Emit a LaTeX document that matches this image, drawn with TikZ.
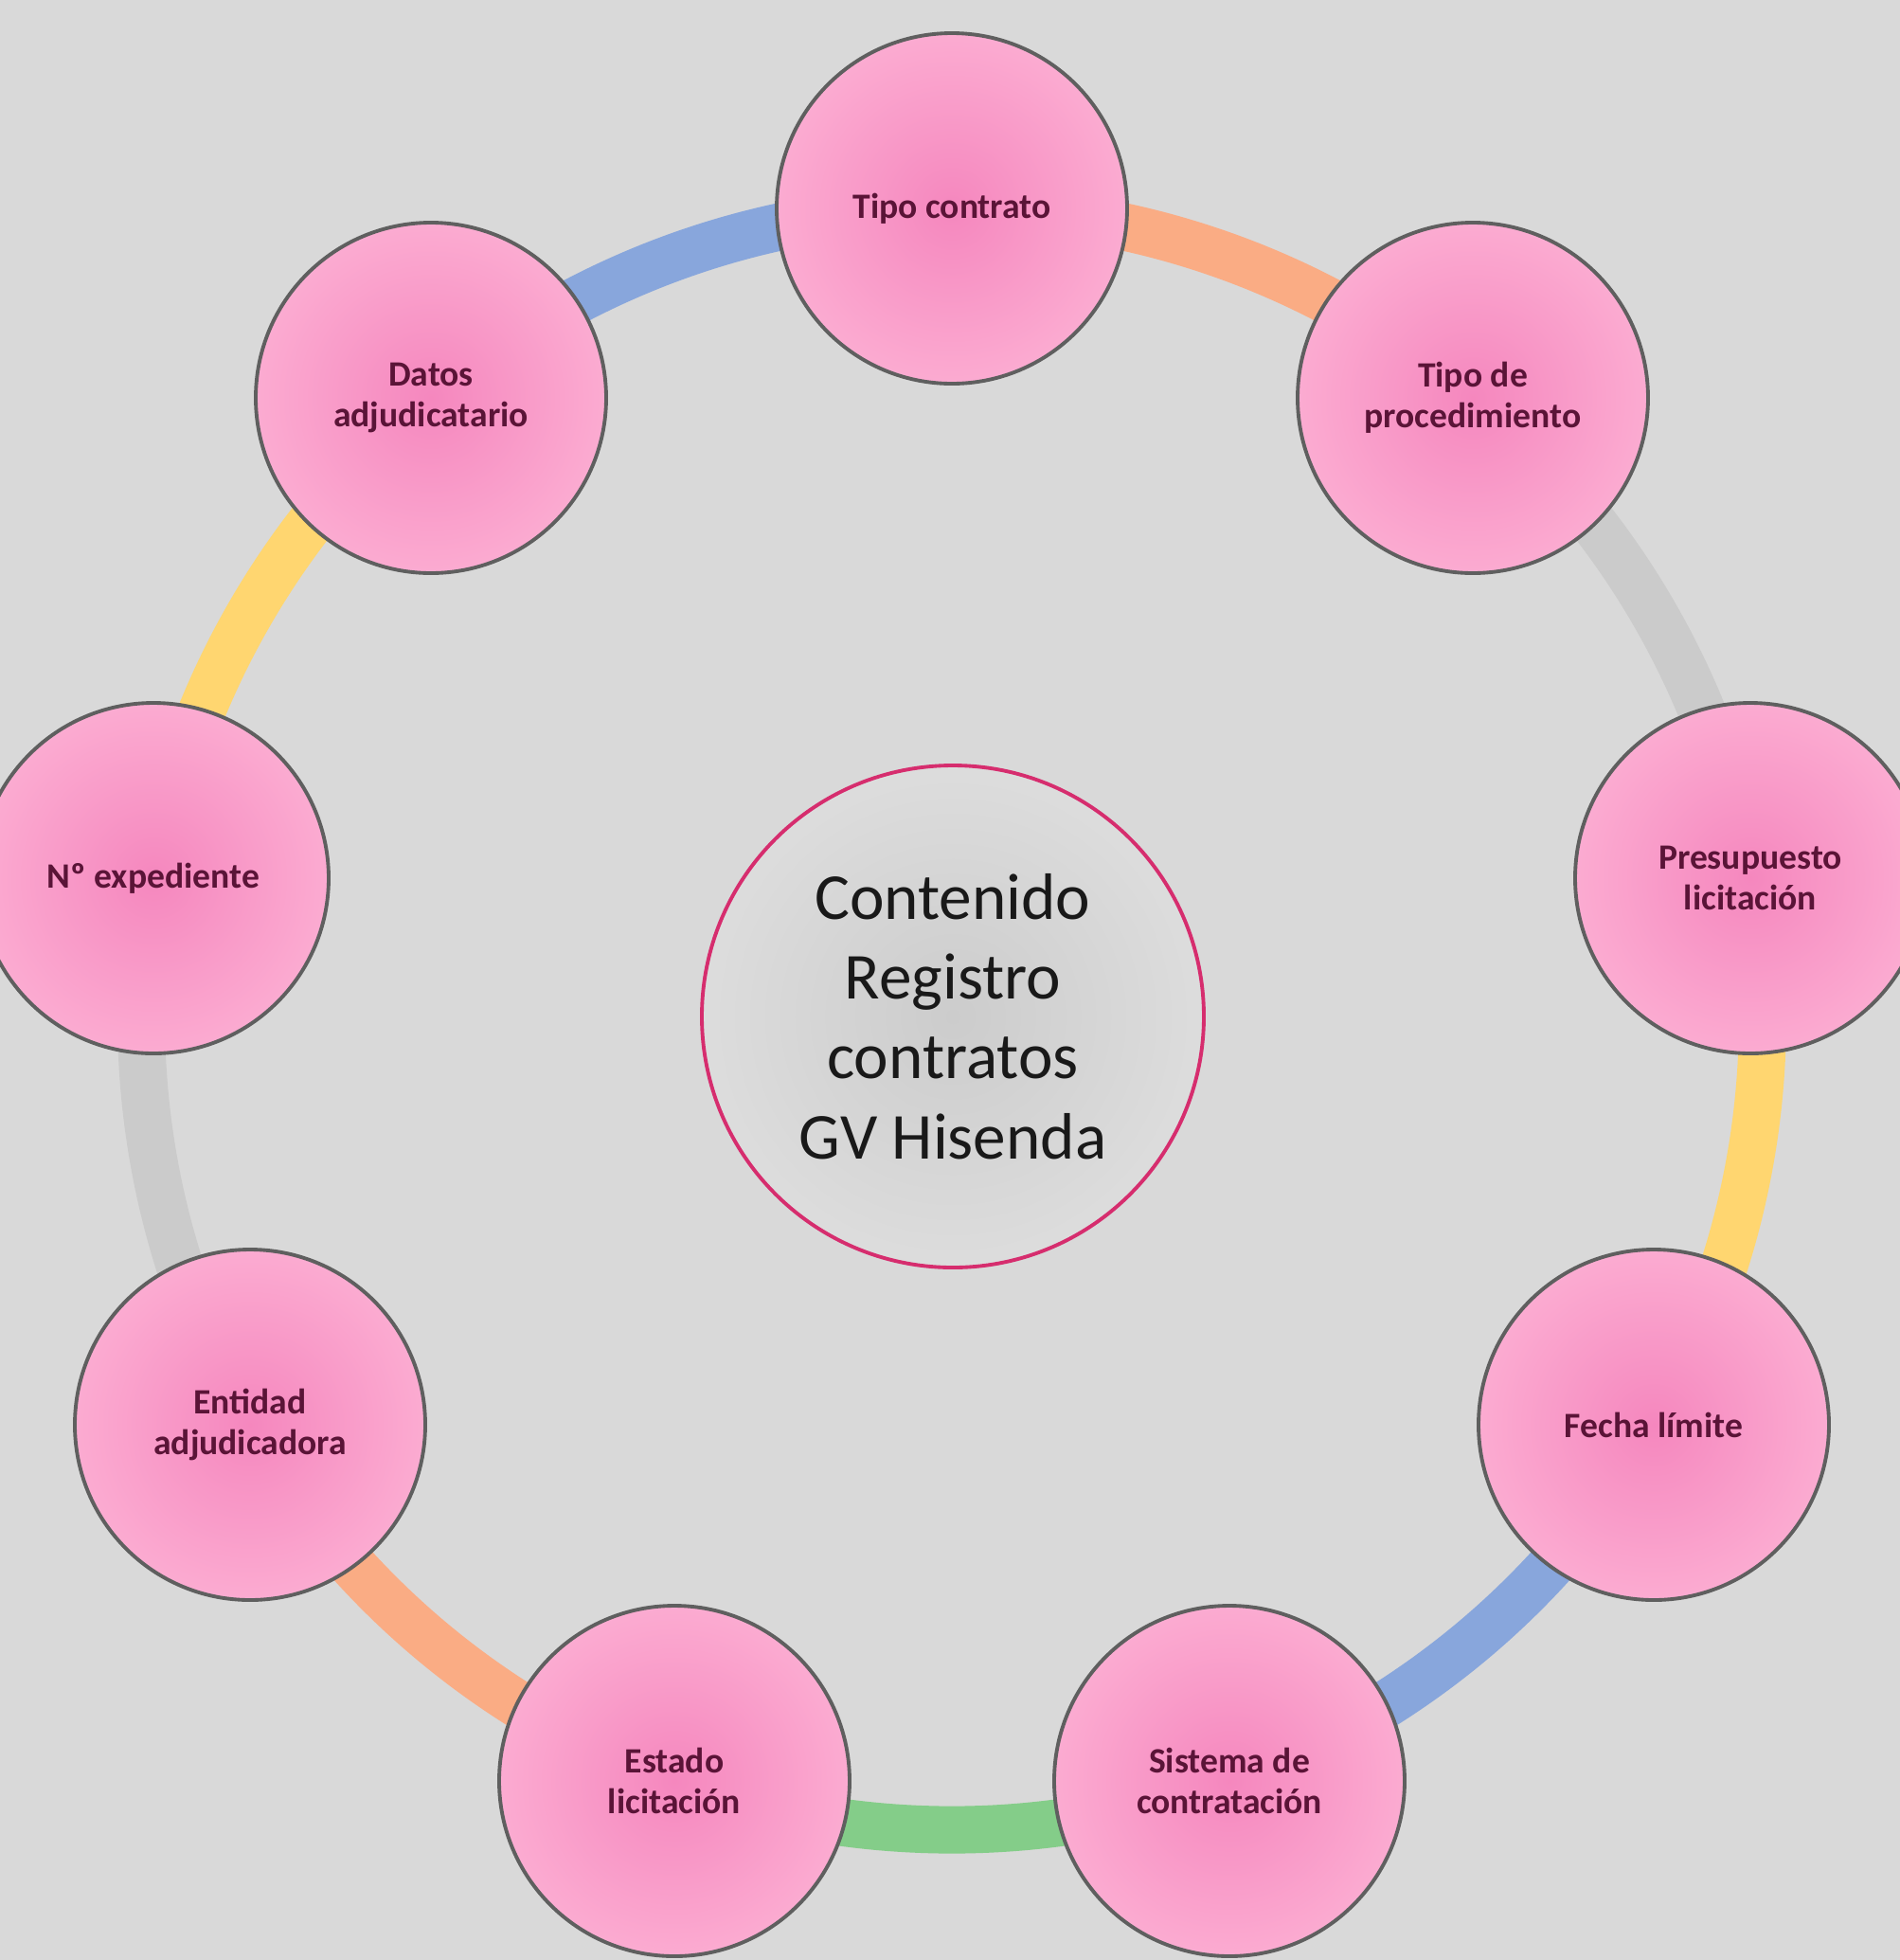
\documentclass[tikz,border=0pt]{standalone}
\usepackage{fontspec}
\setmainfont{Carlito}
\usepackage{tikz}

\definecolor{paper}{RGB}{217,217,217}
\definecolor{pinkcore}{RGB}{245,135,190}
\definecolor{pinkrim}{RGB}{255,190,219}
\definecolor{greycore}{RGB}{204,204,204}
\definecolor{greyrim}{RGB}{232,232,232}
\definecolor{rimline}{RGB}{95,95,95}
\definecolor{hubline}{RGB}{214,45,110}
\definecolor{labeltext}{RGB}{90,20,55}
\definecolor{arcorange}{RGB}{250,172,132}
\definecolor{arcyellow}{RGB}{255,214,112}
\definecolor{arcblue}{RGB}{136,166,220}
\definecolor{arcgreen}{RGB}{132,205,137}
\definecolor{arcgrey}{RGB}{203,203,203}

\pgfdeclareradialshading{pinkball}{\pgfpoint{0bp}{0bp}}{color(0bp)=(pinkcore); color(38bp)=(pinkrim); color(50bp)=(pinkrim)}
\pgfdeclareradialshading{greyball}{\pgfpoint{0bp}{0bp}}{color(0bp)=(greycore); color(42bp)=(greyrim); color(50bp)=(greyrim)}

\pgfdeclarelayer{ring}
\pgfsetlayers{ring,main}

\begin{document}
\begin{tikzpicture}[
  item/.style={circle, draw=rimline, line width=1.1pt, shading=pinkball,
    minimum size=3.7cm, inner sep=0pt, align=center, text=labeltext,
    font=\bfseries\fontsize{10.7}{12.3}\selectfont},
  hub/.style={circle, draw=hubline, line width=1.1pt, shading=greyball,
    minimum size=5.3cm, inner sep=0pt, align=center, text=black!90,
    font=\fontsize{19.7}{24}\selectfont},
  arc/.style={line width=0.5cm, bend left=20, looseness=0.88}]
\useasboundingbox (0,0) rectangle (20.06,-20.69);
% the nine fields round the ring
\node [item] (tipo) at (10.05,-2.20) {Tipo contrato};
\node [item] (proc) at (15.55,-4.20) {Tipo de\\procedimiento};
\node [item] (pres) at (18.48,-9.27) {Presupuesto\\licitación};
\node [item] (fecha) at (17.46,-15.04) {Fecha límite};
\node [item] (sist) at (12.98,-18.80) {Sistema de\\contratación};
\node [item] (estado) at (7.12,-18.80) {Estado\\licitación};
\node [item] (entidad) at (2.64,-15.04) {Entidad\\adjudicadora};
\node [item] (exped) at (1.62,-9.27) {Nº expediente};
\node [item] (datos) at (4.55,-4.20) {Datos\\adjudicatario};
% centre
\node [hub] (hub) at (10.06,-10.73) {Contenido\\Registro\\contratos\\GV Hisenda};
\begin{pgfonlayer}{ring}
\fill [paper] (0,0) rectangle (20.06,-20.69);
\draw [arc, arcorange] (tipo.center) to (proc.center);
\draw [arc, arcgrey] (proc.center) to (pres.center);
\draw [arc, arcyellow] (pres.center) to (fecha.center);
\draw [arc, arcblue] (fecha.center) to (sist.center);
\draw [arc, arcgreen] (sist.center) to (estado.center);
\draw [arc, arcorange] (estado.center) to (entidad.center);
\draw [arc, arcgrey] (entidad.center) to (exped.center);
\draw [arc, arcyellow] (exped.center) to (datos.center);
\draw [arc, arcblue] (datos.center) to (tipo.center);
\end{pgfonlayer}
\end{tikzpicture}
\end{document}
